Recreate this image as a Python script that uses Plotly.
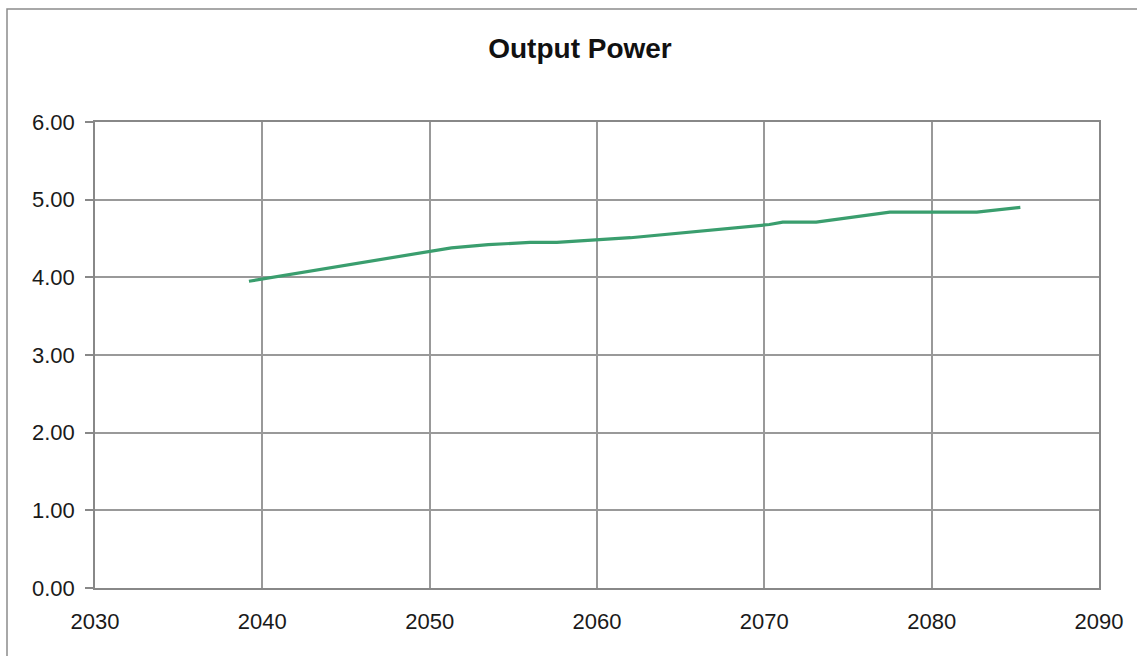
import plotly.graph_objects as go

years = [2039.2, 2051.3, 2053.5, 2056.0, 2057.6, 2062.0, 2070.3, 2071.1, 2073.1, 2077.5, 2082.7, 2085.3]
power = [3.95, 4.38, 4.42, 4.45, 4.45, 4.51, 4.68, 4.71, 4.71, 4.84, 4.84, 4.90]
x_ticks = [2030, 2040, 2050, 2060, 2070, 2080, 2090]
y_ticks = [0, 1, 2, 3, 4, 5, 6]
title_text = "Output Power"

W, H = 1137, 656
L, R, T, B = 95, 38, 122, 68
pw, ph = W - L - R, H - T - B

fig = go.Figure()
fig.add_trace(go.Scatter(x=years, y=power, mode="lines",
                         line=dict(color="#3a9e6e", width=3.2), showlegend=False))

grid = "#999999"
font = dict(family="Liberation Sans, Arial, sans-serif", size=22, color="#1a1a1a")
fig.update_layout(
    width=W, height=H,
    margin=dict(l=L, r=R, t=T, b=B),
    paper_bgcolor="white", plot_bgcolor="white",
    font=font,
    title=dict(text="<b>" + title_text + "</b>", x=580 / W, xanchor="center",
               y=1 - 48 / H, yanchor="middle",
               font=dict(family="Liberation Sans, Arial, sans-serif", size=28, color="#111111")),
    xaxis=dict(range=[2030, 2090], tickvals=x_ticks, ticktext=[str(v) for v in x_ticks],
               showgrid=True, gridcolor=grid, gridwidth=1.5,
               showline=True, linecolor="#888888", linewidth=1.5, mirror=True,
               ticks="", ticklabelstandoff=13, zeroline=False),
    yaxis=dict(range=[0, 6], tickvals=y_ticks, ticktext=["%.2f" % v for v in y_ticks],
               showgrid=True, gridcolor=grid, gridwidth=1.5,
               showline=True, linecolor="#888888", linewidth=1.5, mirror=True,
               ticks="outside", ticklen=8, tickcolor="#888888", tickwidth=1.5,
               ticklabelstandoff=6, zeroline=False),
)

# outer chart frame
fig.add_shape(type="rect", xref="paper", yref="paper",
              x0=(7 - L) / pw, x1=(W + 5 - L) / pw,
              y0=-(H + 5 - (T + ph)) / ph, y1=(T + ph - 9) / ph,
              line=dict(color="#8c8c8c", width=1.5), fillcolor="rgba(0,0,0,0)", layer="below")

fig.write_html("out.html", config={"displayModeBar": False},
               post_script="document.body.style.margin='0';document.body.style.overflow='hidden';")
